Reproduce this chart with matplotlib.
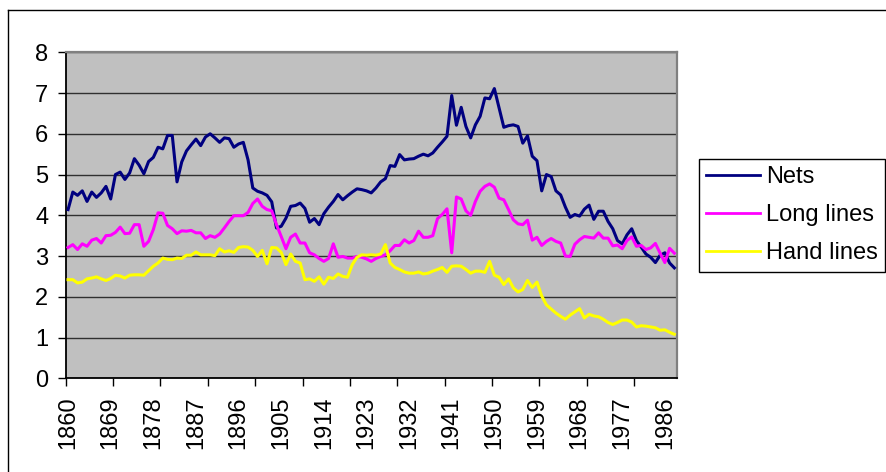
import matplotlib
matplotlib.use('Agg')
import matplotlib.pyplot as plt
from matplotlib.lines import Line2D

plt.rcParams['font.family'] = ['Liberation Sans', 'DejaVu Sans']
plt.rcParams['font.size'] = 17

years = list(range(1860, 1989))

nets = [
    4.14, 4.57, 4.49, 4.60, 4.34, 4.57, 4.44, 4.55, 4.71, 4.40,
    5.00, 5.06, 4.88, 5.04, 5.39, 5.23, 5.02, 5.32, 5.42, 5.67,
    5.63, 5.96, 5.96, 4.82, 5.31, 5.58, 5.73, 5.87, 5.71, 5.92,
    6.00, 5.90, 5.79, 5.90, 5.88, 5.67, 5.75, 5.79, 5.36, 4.67,
    4.59, 4.55, 4.49, 4.33, 3.69, 3.73, 3.93, 4.22, 4.24, 4.30,
    4.17, 3.83, 3.92, 3.77, 4.04, 4.20, 4.34, 4.51, 4.38, 4.48,
    4.57, 4.65, 4.63, 4.60, 4.55, 4.67, 4.82, 4.90, 5.22, 5.20,
    5.49, 5.36, 5.38, 5.39, 5.45, 5.50, 5.46, 5.53, 5.67, 5.80,
    5.94, 6.94, 6.21, 6.65, 6.18, 5.90, 6.22, 6.43, 6.88, 6.86,
    7.11, 6.63, 6.16, 6.20, 6.22, 6.18, 5.77, 5.95, 5.45, 5.34,
    4.60, 5.00, 4.95, 4.60, 4.50, 4.20, 3.95, 4.02, 3.98, 4.15,
    4.25, 3.90, 4.10, 4.10, 3.85, 3.67, 3.38, 3.30, 3.52, 3.67,
    3.38, 3.22, 3.05, 2.97, 2.84, 3.02, 3.08, 2.83, 2.71,
]

long_lines = [
    3.21, 3.28, 3.16, 3.30, 3.24, 3.39, 3.43, 3.32, 3.50, 3.51,
    3.58, 3.71, 3.55, 3.56, 3.77, 3.77, 3.24, 3.36, 3.65, 4.06,
    4.05, 3.75, 3.67, 3.55, 3.62, 3.61, 3.63, 3.57, 3.57, 3.43,
    3.50, 3.46, 3.54, 3.69, 3.85, 3.99, 3.99, 3.99, 4.07, 4.29,
    4.40, 4.22, 4.14, 4.11, 3.77, 3.48, 3.18, 3.46, 3.54, 3.32,
    3.32, 3.08, 3.03, 2.94, 2.87, 2.94, 3.30, 2.97, 2.99, 2.95,
    2.95, 2.99, 2.97, 2.93, 2.87, 2.94, 2.99, 3.03, 3.13, 3.26,
    3.26, 3.40, 3.32, 3.38, 3.61, 3.46, 3.46, 3.50, 3.92, 4.02,
    4.16, 3.08, 4.45, 4.40, 4.11, 4.00, 4.34, 4.59, 4.71, 4.77,
    4.69, 4.42, 4.38, 4.14, 3.89, 3.79, 3.77, 3.88, 3.39, 3.46,
    3.26, 3.36, 3.43, 3.36, 3.32, 3.00, 2.99, 3.29, 3.40, 3.48,
    3.46, 3.44, 3.57, 3.44, 3.44, 3.25, 3.27, 3.18, 3.38, 3.47,
    3.24, 3.26, 3.16, 3.20, 3.31, 3.07, 2.84, 3.19, 3.07,
]

hand_lines = [
    2.42, 2.42, 2.34, 2.36, 2.44, 2.46, 2.49, 2.44, 2.40, 2.45,
    2.53, 2.51, 2.46, 2.53, 2.54, 2.54, 2.53, 2.64, 2.75, 2.83,
    2.95, 2.92, 2.91, 2.95, 2.94, 3.02, 3.02, 3.10, 3.03, 3.03,
    3.03, 3.01, 3.18, 3.10, 3.13, 3.09, 3.21, 3.23, 3.22, 3.14,
    2.99, 3.14, 2.81, 3.21, 3.20, 3.09, 2.79, 3.05, 2.87, 2.83,
    2.42, 2.44, 2.38, 2.49, 2.31, 2.48, 2.45, 2.56, 2.50, 2.48,
    2.79, 2.97, 3.03, 3.02, 3.03, 3.02, 3.05, 3.28, 2.83, 2.72,
    2.67, 2.61, 2.58, 2.58, 2.61, 2.56, 2.58, 2.63, 2.67, 2.72,
    2.60, 2.75, 2.76, 2.75, 2.67, 2.58, 2.63, 2.63, 2.60, 2.87,
    2.53, 2.48, 2.30, 2.44, 2.22, 2.12, 2.18, 2.40, 2.23, 2.36,
    2.02, 1.80, 1.70, 1.60, 1.52, 1.45, 1.55, 1.63, 1.71, 1.48,
    1.57, 1.53, 1.51, 1.45, 1.37, 1.32, 1.37, 1.43, 1.43, 1.38,
    1.26, 1.29, 1.28, 1.26, 1.24, 1.18, 1.19, 1.13, 1.08,
]

label_years = list(range(1860, 1987, 9))
tick_marks = [1859.5 + 10 * k for k in range(13)]

W, H = 887, 472
fig = plt.figure(figsize=(W / 100, H / 100), dpi=100)
fig.patch.set_facecolor('white')

# plot area in pixels: x 65.7..676.7, y 52.3..378.3
ax = fig.add_axes([65.7 / W, 1 - 378.3 / H, (676.7 - 65.7) / W, (378.3 - 52.3) / H])
ax.set_facecolor('#C0C0C0')

ax.plot(years, nets, color='#000080', lw=2.2, label='Nets', zorder=3)
ax.plot(years, long_lines, color='#FF00FF', lw=2.2, label='Long lines', zorder=3)
ax.plot(years, hand_lines, color='#FFFF00', lw=2.2, label='Hand lines', zorder=3)

ax.set_xlim(1859.5, 1988.5)
ax.set_ylim(0, 8)

ax.set_yticks(range(0, 9))
ax.yaxis.grid(True, color='#303030', lw=1)
ax.set_axisbelow(True)
ax.tick_params(axis='y', direction='out', length=5.5, width=1, pad=7, color='black')

ax.set_xticks(tick_marks)
ax.set_xticklabels([])
ax.tick_params(axis='x', which='major', direction='out', length=5.5, width=1, color='black')
ax.set_xticks(label_years, minor=True)
ax.set_xticklabels([str(y) for y in label_years], minor=True, rotation=90)
ax.tick_params(axis='x', which='minor', length=0, pad=13)

for side in ['left', 'bottom']:
    ax.spines[side].set_color('black')
    ax.spines[side].set_linewidth(1.3)
for side in ['top', 'right']:
    ax.spines[side].set_color('#808080')
    ax.spines[side].set_linewidth(1.6)

# chart area border (left and top visible)
fig.add_artist(Line2D([8 / W, 8 / W], [0, 1 - 10 / H], color='black', lw=1,
                      transform=fig.transFigure))
fig.add_artist(Line2D([8 / W, 1], [1 - 10 / H, 1 - 10 / H], color='black', lw=1,
                      transform=fig.transFigure))

leg = ax.legend(loc='upper left', bbox_to_anchor=(699 / W, 1 - 159.3 / H),
                bbox_transform=fig.transFigure, frameon=True, fancybox=False,
                edgecolor='black', framealpha=1, borderpad=0.3, borderaxespad=0,
                handlelength=2.3, handletextpad=0.25, labelspacing=0.68)
leg.get_frame().set_linewidth(1)
for line in leg.get_lines():
    line.set_linewidth(2)

fig.savefig('out.png', dpi=100)
